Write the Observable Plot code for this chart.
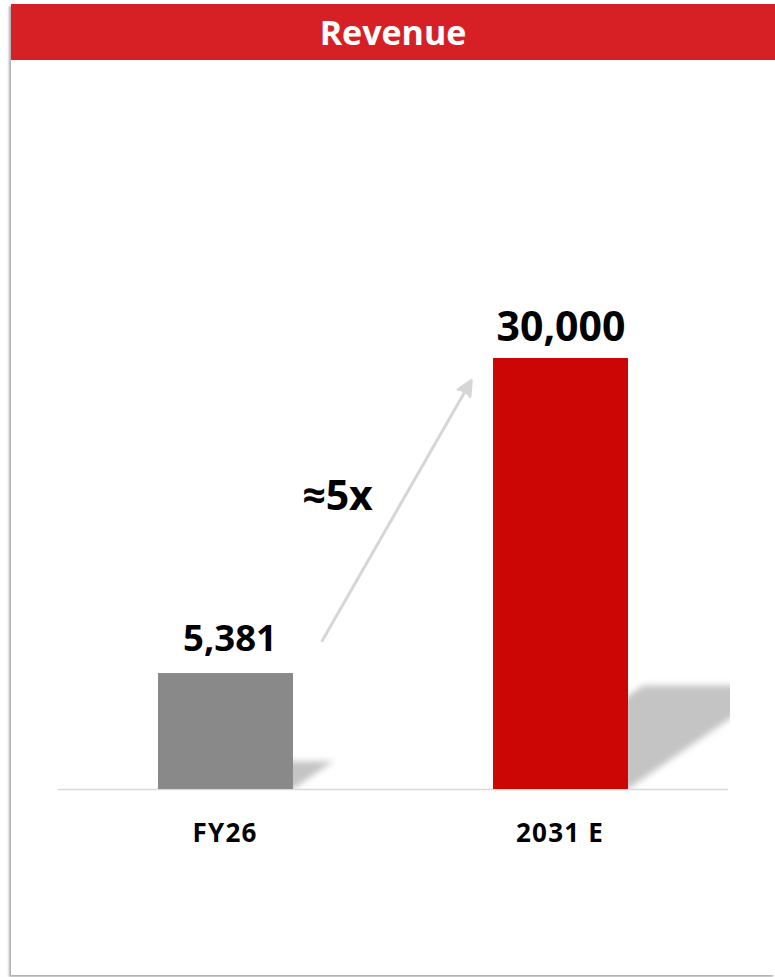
<!DOCTYPE html>
<html>
<head>
<meta charset="utf-8">
<script src="https://cdn.jsdelivr.net/npm/d3@7"></script>
<script src="https://cdn.jsdelivr.net/npm/@observablehq/plot@0.6"></script>
<style>
  html, body { margin: 0; padding: 0; background: #ffffff; }
  #page {
    position: absolute; left: 11px; top: 4px; width: 764px; height: 971px;
    background: #ffffff; box-shadow: -2px 2px 2px rgba(0,0,0,0.32);
  }
  #header {
    height: 56px; background: #d71f26; color: #ffffff;
    font-family: 'Open Sans', sans-serif; font-weight: 700; font-size: 34px;
    display: flex; align-items: center; justify-content: center;
  }
  #chart svg { display: block; }
</style>
</head>
<body>
<div id="page">
  <div id="header">Revenue</div>
  <div id="chart"></div>
</div>
<script>
// ---- data ----
const categories = ["FY26", "2031 E"];
const revenue = [5381, 30000];
const barColors = ["#898989", "#cc0605"];
const title = "Revenue";

// growth annotation (arrow from FY26 toward 2031 E)
const arrowFrom = ["FY26"];
const arrowTo = ["2031 E"];
const arrowStartValue = [2500];
const arrowEndValue = [51300];
const growthLabel = ["≈5x"];
const growthLabelValue = [17000];

// ---- tables built from the arrays ----
const data = categories.map((c, i) => ({category: c, value: revenue[i], color: barColors[i]}));
const arrows = arrowFrom.map((f, i) => ({from: f, to: arrowTo[i], y1: arrowStartValue[i], y2: arrowEndValue[i]}));
const growth = growthLabel.map((t, i) => ({at: arrowFrom[i], y: growthLabelValue[i], text: t}));
const fmt = d3.format(",");

const W = 764, H = 915;

const chart = Plot.plot({
  width: W,
  height: H,
  marginLeft: 47,
  marginRight: 47,
  marginTop: 298,
  marginBottom: 186,
  style: {fontFamily: "'Open Sans', sans-serif", color: "#000", background: "transparent", overflow: "visible"},
  x: {domain: categories, paddingInner: 0.597, paddingOuter: 0.2985, axis: null},
  y: {type: "pow", exponent: 0.764, domain: [0, 30000], axis: null},
  color: {type: "identity"},
  marks: [
    // cast shadows (skewed + blurred after render)
    Plot.barY(data, {x: "category", y: "value", fill: "#c4c4c4", ariaDescription: "shadow"}),
    Plot.ruleY([0], {stroke: "#d9d9d9", strokeWidth: 1.5}),
    Plot.barY(data, {x: "category", y: "value", fill: "color"}),
    Plot.text(data.filter(d => d.category === categories[0]), {
      x: "category", y: "value", text: d => fmt(d.value),
      lineAnchor: "bottom", dy: -22.5, dx: 4, fontSize: 36.5, fontWeight: 700, fill: "#000"
    }),
    Plot.text(data.filter(d => d.category === categories[1]), {
      x: "category", y: "value", text: d => fmt(d.value),
      lineAnchor: "bottom", dy: -17.5, fontSize: 41, fontWeight: 700, fill: "#000"
    }),
    // category labels
    Plot.text(data, {
      x: "category", text: "category", frameAnchor: "bottom",
      lineAnchor: "bottom", dy: 52, dx: -1, fontSize: 26, fontWeight: 700, fill: "#000",
      ariaDescription: "category-labels"
    }),
    // growth arrow
    Plot.arrow(arrows, {
      x1: "from", x2: "to", y1: "y1", y2: "y2",
      stroke: "#d6d6d6", fill: "#d6d6d6", strokeWidth: 3,
      headLength: 8, headAngle: 50, insetStart: 97, insetEnd: 277, dx: 48
    }),
    Plot.text(growth, {
      x: "at", y: "y", text: "text", dx: 111.5,
      lineAnchor: "bottom", fontSize: 41, fontWeight: 700, fill: "#000"
    })
  ]
});

// ---- post-processing: shadow skew/flatten + blur + clip; label letter spacing ----
(function () {
  const ns = "http://www.w3.org/2000/svg";
  const svg = chart.tagName.toLowerCase() === "svg" ? chart : chart.querySelector("svg");
  const labels = svg.querySelector('g[aria-description="category-labels"]');
  if (labels) labels.setAttribute("letter-spacing", "1.2");
  const shadowG = svg.querySelector('g[aria-description="shadow"]') || svg.querySelector('g[aria-label="bar"]');
  if (!shadowG) return;
  const y0 = chart.scale("y").apply(0);
  const xr = chart.scale("x").range;
  const defs = document.createElementNS(ns, "defs");
  defs.innerHTML =
    '<filter id="shadowBlur" x="-20%" y="-40%" width="140%" height="180%">' +
    '<feGaussianBlur stdDeviation="3.2"/></filter>' +
    '<clipPath id="shadowClip"><rect x="0" y="0" width="' + (Math.max(xr[0], xr[1]) + 2) +
    '" height="' + (y0 + 1) + '"/></clipPath>';
  svg.insertBefore(defs, svg.firstChild);
  const wrap = document.createElementNS(ns, "g");
  wrap.setAttribute("filter", "url(#shadowBlur)");
  wrap.setAttribute("clip-path", "url(#shadowClip)");
  shadowG.parentNode.insertBefore(wrap, shadowG);
  wrap.appendChild(shadowG);
  const prev = shadowG.getAttribute("transform") || "";
  shadowG.setAttribute("transform",
    prev + " translate(0," + y0 + ") skewX(-55.4) scale(1,0.24) translate(0," + (-y0) + ")");
})();

document.getElementById("chart").appendChild(chart);
</script>
</body>
</html>
